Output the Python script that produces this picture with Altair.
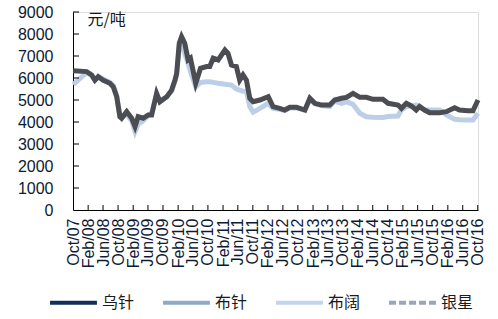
import altair as alt
import pandas as pd

dates = ["2007-10-03","2008-01-20","2008-03-01","2008-03-27","2008-04-23","2008-06-03","2008-07-27",
         "2008-08-23","2008-09-20","2008-10-16","2008-10-30","2008-12-10","2009-01-20","2009-02-16",
         "2009-03-13","2009-04-23","2009-06-03","2009-07-01","2009-08-10","2009-09-06","2009-11-01",
         "2009-12-10","2010-01-06","2010-01-20","2010-02-10","2010-03-01","2010-03-27","2010-04-23",
         "2010-05-12","2010-06-24","2010-08-02","2010-09-20","2010-10-16","2010-11-13","2010-12-23",
         "2011-02-16","2011-03-13","2011-04-10","2011-05-20","2011-06-16","2011-07-13","2011-08-10",
         "2011-09-06","2011-10-03","2011-11-27","2012-02-03","2012-03-13","2012-05-06","2012-06-16",
         "2012-07-27","2012-09-20","2012-11-27","2013-01-06","2013-02-16","2013-04-10","2013-06-16",
         "2013-07-27","2013-09-20","2013-10-30","2013-12-23","2014-02-16","2014-04-10","2014-06-03",
         "2014-08-23","2014-10-03","2014-12-23","2015-01-20","2015-03-01","2015-04-10","2015-05-20",
         "2015-06-16","2015-07-27","2015-09-06","2015-11-27","2016-01-20","2016-03-27","2016-05-06",
         "2016-07-13","2016-08-23","2016-10-03"]

wuzhen = [6330,6290,6140,5900,6060,5900,5760,5600,5150,4240,4170,4470,4170,3790,4240,4170,4320,4320,
          5300,4920,5150,5450,5900,6200,7580,7880,7580,6820,6900,5760,6440,6520,6520,6900,6820,7270,
          7120,6590,6520,5900,6140,5900,5080,4920,5000,5150,4700,4620,4545,4670,4670,4545,5080,4850,
          4770,4770,5000,5080,5120,5300,5120,5120,5030,5030,4850,4770,4620,4850,4730,4545,4700,4545,
          4420,4420,4470,4650,4545,4510,4510,5000]

bukuo = [5700,6250,6100,5900,6080,5950,5800,5650,5200,4250,4200,4350,4050,3560,3900,4050,4300,4400,
         5250,4950,5150,5400,5850,6150,7400,7600,7100,6670,6300,5600,5800,5830,5830,5800,5760,5720,
         5700,5680,5500,5450,5400,5380,4700,4450,4620,4850,4620,4580,4520,4640,4650,4530,5030,4820,
         4750,4700,4950,4850,4920,4800,4400,4240,4220,4210,4250,4270,4545,4700,4720,4770,4740,4545,
         4545,4545,4320,4120,4100,4090,4090,4400]

legend_names = ["乌针", "布针", "布阔", "银星"]
legend_colors = ["#0f2f5a", "#8fa9c8", "#c2d4ea", "#9aa6b6"]
legend_dash = [[1, 0], [1, 0], [1, 0], [7, 3]]

tick_months = ["2007-10","2008-02","2008-06","2008-10","2009-02","2009-06","2009-10","2010-02",
               "2010-06","2010-10","2011-02","2011-06","2011-10","2012-02","2012-06","2012-10",
               "2013-02","2013-06","2013-10","2014-02","2014-06","2014-10","2015-02","2015-06",
               "2015-10","2016-02","2016-06","2016-10"]
y_ticks = [1000,2000,3000,4000,5000,6000,7000,8000,9000]

def dt(s):
    y, m = s.split("-")
    return alt.DateTime(year=int(y), month=int(m), date=1)

tick_values = [dt(s) for s in tick_months]

df = pd.DataFrame({"date": dates, "乌针": wuzhen, "布阔": bukuo})

xscale = alt.Scale(domain=[alt.DateTime(year=2007, month=10, date=1),
                           alt.DateTime(year=2016, month=10, date=3)])
yscale = alt.Scale(domain=[0, 9000])

xaxis = alt.Axis(values=tick_values, format="%b/%y", labelAngle=-90, labelAlign="right",
                 labelBaseline="middle", labelFont="Liberation Sans", labelFontSize=16,
                 labelColor="#0d1a33", labelPadding=8, labelOverlap=False, labelFlush=False,
                 labelBound=False, ticks=False, domainColor="#000000", domainWidth=1,
                 grid=False, title=None)
yaxis = alt.Axis(values=[0] + y_ticks, format="d", labelFont="Liberation Sans", labelFontSize=16,
                 labelColor="#0d1a33", labelPadding=20, labelOverlap=False, labelFlush=False,
                 ticks=False, domainColor="#000000",
                 grid=False, title="元/吨", titleAngle=0, titleX=14, titleY=7,
                 titleAlign="left", titleBaseline="middle", titleFont="Noto Sans CJK SC",
                 titleFontSize=16, titleFontWeight="normal", titleColor="#1a1a1a")

base = alt.Chart(df)

light = base.mark_line(strokeWidth=5, color="#bccfe7").encode(
    x=alt.X("date:T", scale=xscale, axis=xaxis),
    y=alt.Y("布阔:Q", scale=yscale, axis=yaxis),
)
dark = base.mark_line(strokeWidth=5, color="#4b4d52").encode(
    x=alt.X("date:T", scale=xscale, axis=xaxis),
    y=alt.Y("乌针:Q", scale=yscale, axis=yaxis),
)

leg_df = pd.DataFrame({"name": legend_names, "date": ["2010-01-01"] * 4, "v": [0] * 4})
legend_layer = alt.Chart(leg_df).mark_line(strokeWidth=4).encode(
    x=alt.X("date:T", scale=xscale, axis=xaxis),
    y=alt.Y("v:Q", scale=yscale, axis=yaxis),
    color=alt.Color("name:N", scale=alt.Scale(domain=legend_names, range=legend_colors),
                    legend=alt.Legend(orient="none", legendX=-25, legendY=265,
                                      direction="horizontal", title=None,
                                      symbolType="stroke", symbolSize=2200,
                                      symbolStrokeWidth=4, labelFont="Noto Sans CJK SC",
                                      labelFontSize=16, labelColor="#1a1a1a",
                                      labelOffset=3, columnPadding=20)),
    strokeDash=alt.StrokeDash("name:N", scale=alt.Scale(domain=legend_names, range=legend_dash),
                              legend=None),
)

tick_df = pd.DataFrame({"date": [s + "-01T00:00:00" for s in tick_months[1:]]})
xticks = alt.Chart(tick_df).mark_rule(color="#000000", strokeWidth=1).encode(
    x=alt.X("date:T", scale=xscale, axis=xaxis),
    y=alt.value(198), y2=alt.value(193),
)
ytick_df = pd.DataFrame({"v": y_ticks})
yticks = alt.Chart(ytick_df).mark_rule(color="#000000", strokeWidth=1).encode(
    y=alt.Y("v:Q", scale=yscale, axis=yaxis),
    x=alt.value(0), x2=alt.value(6),
)

chart = alt.layer(light, dark, legend_layer, xticks, yticks).properties(
    width=405, height=198, autosize="none",
    padding={"left": 73, "top": 12, "right": 20, "bottom": 109},
).configure_view(stroke=None).configure(background="#ffffff")

chart.save("out.html", embed_options={"renderer": "svg", "actions": False})
